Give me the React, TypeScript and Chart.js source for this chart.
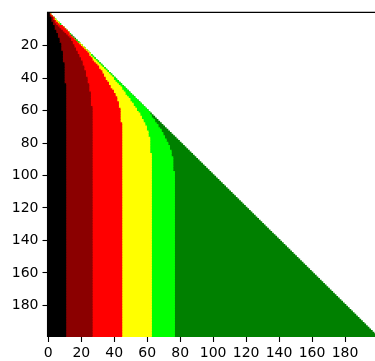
import React, { useEffect, useRef } from 'react';
import { Chart, registerables } from 'chart.js';

Chart.register(...registerables);

// Row indices of the 200x200 matrix (lower triangle is coloured).
const ROW_COUNT = 200;
const rowLabels = Array.from({ length: ROW_COUNT }, (_, i) => String(i));
const xTickValues = [0, 20, 40, 60, 80, 100, 120, 140, 160, 180];
const yTickValues = [20, 40, 60, 80, 100, 120, 140, 160, 180];

// Per-row first column index of the NEXT colour band.
// The last value of each list holds for all following rows.
const blackEnd = [1, 1, 1, 2, 2, 2, 3, 3, 4, 4, 4, 5, 5, 6, 6, 6, 7, 7, 7, 8, 8, 8, 8, 8, 9, 9, 9, 9, 9, 9, 9, 10, 10, 10, 10, 10, 10, 10, 10, 10, 10, 10, 10, 10, 11];

const maroonEnd = [1, 1, 2, 3, 3, 4, 4, 5, 6, 7, 8, 9, 10, 11, 12, 13, 14, 14, 15, 15, 16, 16, 17, 17, 18, 18, 19, 19, 20, 20, 21, 21, 21, 22, 22, 22, 23, 23, 23, 23, 24, 24, 24, 24, 25, 25, 25, 25, 25, 26, 26, 26, 26, 26, 26, 26, 26, 26, 27];

const redEnd = [1, 2, 3, 4, 4, 5, 6, 7, 9, 10, 11, 12, 13, 13, 14, 15, 16, 17, 18, 19, 20, 21, 22, 23, 24, 25, 25, 26, 27, 27, 28, 29, 30, 31, 31, 32, 33, 33, 34, 34, 35, 35, 36, 37, 37, 38, 38, 39, 40, 40, 41, 41, 42, 42, 42, 43, 43, 43, 43, 44, 44, 44, 44, 44, 44, 44, 44, 44, 45];

const yellowEnd = [1, 2, 3, 4, 5, 6, 7, 7, 9, 10, 11, 12, 13, 13, 14, 15, 16, 17, 18, 20, 21, 22, 23, 24, 25, 26, 26, 27, 28, 29, 30, 31, 32, 33, 34, 35, 36, 37, 38, 39, 40, 40, 41, 42, 43, 44, 45, 45, 46, 47, 47, 48, 49, 50, 50, 51, 52, 52, 53, 54, 54, 55, 56, 56, 57, 57, 58, 58, 59, 59, 60, 60, 60, 61, 61, 61, 61, 62, 62, 62, 62, 62, 62, 62, 62, 62, 62, 63];

const limeEnd = [1, 2, 3, 4, 5, 6, 7, 8, 9, 10, 11, 12, 13, 14, 14, 15, 16, 18, 19, 20, 21, 22, 23, 24, 25, 26, 27, 28, 29, 30, 31, 32, 33, 34, 35, 36, 37, 38, 39, 40, 41, 42, 43, 44, 45, 46, 47, 48, 49, 50, 51, 52, 53, 54, 55, 56, 57, 58, 59, 60, 61, 62, 62, 63, 63, 64, 65, 65, 66, 67, 67, 68, 69, 69, 70, 70, 71, 71, 72, 72, 73, 73, 74, 74, 74, 75, 75, 75, 75, 76, 76, 76, 76, 76, 76, 76, 76, 76, 77];

const bandColors = ['#000000', '#8b0000', '#ff0000', '#ffff00', '#00ff00', '#008000'];

const at = (arr: number[], r: number) => arr[Math.min(r, arr.length - 1)];

const spinePlugin = {
  id: 'spines',
  afterDatasetsDraw(chart: any) {
    const { ctx, chartArea: a } = chart;
    ctx.save();
    ctx.strokeStyle = '#000';
    ctx.lineWidth = 1.1;
    ctx.beginPath();
    ctx.moveTo(a.left, a.bottom);
    ctx.lineTo(a.left, a.top);
    ctx.lineTo(a.right, a.top);
    ctx.stroke();
    ctx.restore();
  },
};

export default function App() {
  const ref = useRef<HTMLCanvasElement>(null);
  useEffect(() => {
    document.body.style.margin = '0';
    const rows = rowLabels.map((_, i) => i);
    const ends = [blackEnd, maroonEnd, redEnd, yellowEnd, limeEnd];
    const datasets: any[] = ends.map((arr, k) => ({
      data: rows.map((r) => [-0.5, at(arr, r) - 0.5]),
      backgroundColor: bandColors[k],
    }));
    datasets.push({
      data: rows.map((r) => [-0.5, r + 0.5]),
      backgroundColor: bandColors[5],
    });
    datasets.forEach((d) => {
      d.grouped = false;
      d.barPercentage = 1;
      d.categoryPercentage = 1;
      d.borderWidth = 0;
      d.inflateAmount = 0.5;
    });
    const font = { family: 'DejaVu Sans', size: 14 };
    const chart = new Chart(ref.current!, {
      type: 'bar',
      data: { labels: rowLabels, datasets },
      plugins: [spinePlugin],
      options: {
        indexAxis: 'y',
        animation: false,
        responsive: false,
        devicePixelRatio: 1,
        layout: { padding: { top: 6.7, left: 0, right: 0, bottom: 0 } },
        plugins: { legend: { display: false }, tooltip: { enabled: false } },
        scales: {
          x: {
            type: 'linear',
            min: -0.5,
            max: 198.2,
            afterBuildTicks: (s: any) => {
              s.ticks = xTickValues.map((v) => ({ value: v }));
            },
            afterFit: (s: any) => {
              s.height = 24;
            },
            grid: { drawOnChartArea: false, drawTicks: true, tickLength: 5, tickWidth: 1.1, tickColor: '#000' },
            border: { display: false },
            ticks: { font, color: '#000', padding: 3, maxRotation: 0, autoSkip: false, callback: (v: any) => String(v) },
          },
          y: {
            type: 'category',
            afterFit: (s: any) => {
              s.width = 47.5;
            },
            grid: { offset: false, drawOnChartArea: false, drawTicks: true, tickLength: 5, tickWidth: 1.1, tickColor: '#000' },
            border: { display: false },
            ticks: {
              font,
              color: '#000',
              padding: 4,
              autoSkip: false,
              callback: (_v: any, i: number) => (yTickValues.includes(i) ? String(i) : null),
            },
          },
        },
      },
    } as any);
    return () => chart.destroy();
  }, []);
  return <canvas ref={ref} width={375} height={361} style={{ display: 'block' }} />;
}
